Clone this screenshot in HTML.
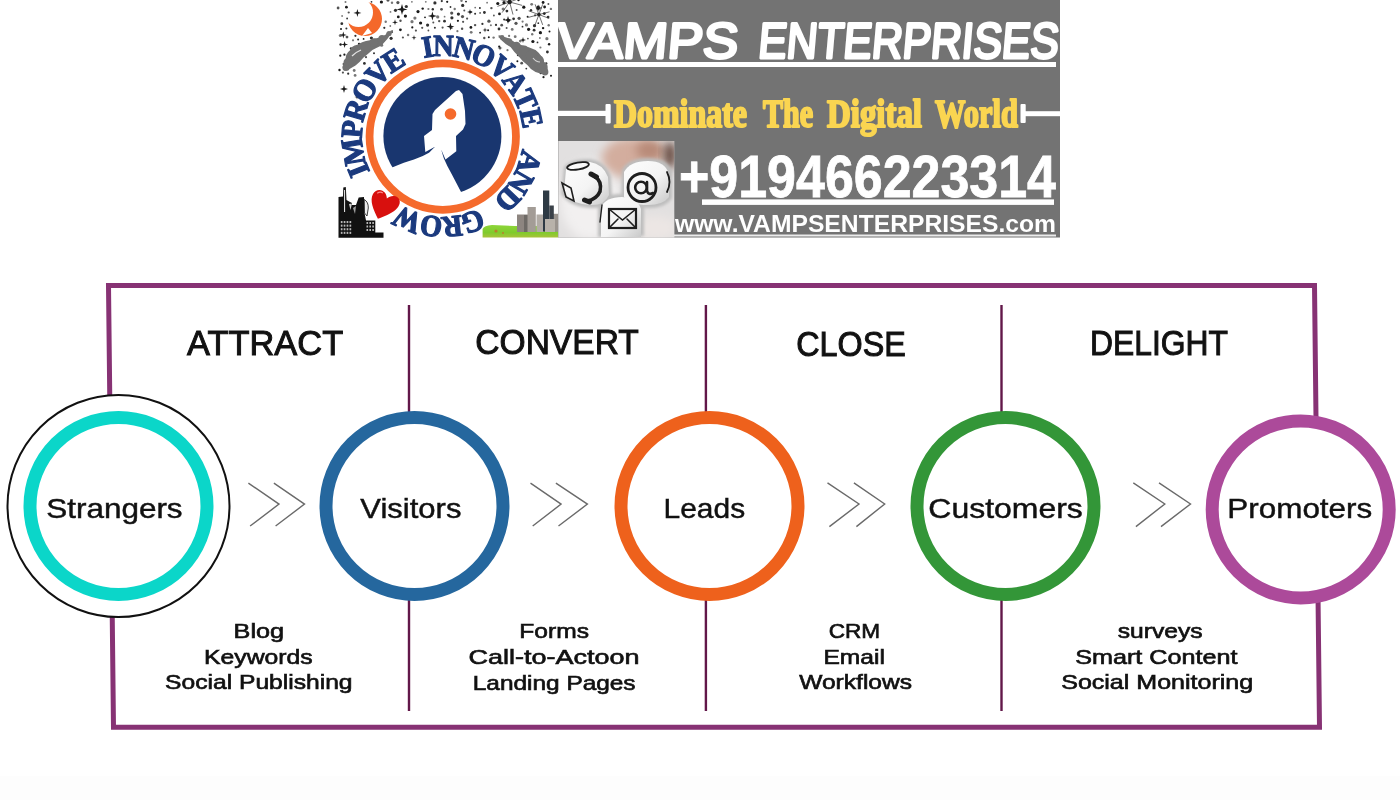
<!DOCTYPE html>
<html><head><meta charset="utf-8">
<style>
html,body{margin:0;padding:0;background:#fff;width:1400px;height:800px;overflow:hidden}
svg{display:block;position:absolute;left:0;top:0;will-change:transform}
</style></head>
<body>
<svg width="1400" height="800" viewBox="0 0 1400 800">
<rect width="1400" height="800" fill="#ffffff"/>
<rect x="0" y="776" width="1400" height="24" fill="#fdfdfd"/>
<!-- LOGO -->
<g id="logo">
<g fill="#1a1a1a">
<circle cx="534.9" cy="54.9" r="1.6" opacity="0.75"/>
<circle cx="463.1" cy="21.8" r="1.1" opacity="0.75"/>
<circle cx="506.9" cy="11.1" r="1.4" opacity="0.9"/>
<circle cx="402.6" cy="10.7" r="1.0" opacity="1"/>
<circle cx="543.5" cy="77.2" r="1.1" opacity="1"/>
<circle cx="371.5" cy="1.8" r="0.9" opacity="0.9"/>
<circle cx="450.5" cy="7.0" r="0.9" opacity="0.9"/>
<circle cx="344.4" cy="54.7" r="1.1" opacity="1"/>
<circle cx="517.4" cy="61.3" r="1.0" opacity="1"/>
<circle cx="488.8" cy="37.2" r="1.0" opacity="1"/>
<circle cx="386.9" cy="34.1" r="0.9" opacity="0.6"/>
<circle cx="518.5" cy="0.1" r="1.2" opacity="1"/>
<circle cx="422.7" cy="8.6" r="1.2" opacity="1"/>
<circle cx="395.5" cy="10.3" r="1.6" opacity="0.9"/>
<circle cx="499.5" cy="13.9" r="1.4" opacity="1"/>
<circle cx="390.5" cy="11.9" r="0.9" opacity="0.6"/>
<circle cx="433.3" cy="22.5" r="1.0" opacity="0.75"/>
<circle cx="493.9" cy="15.5" r="0.9" opacity="0.75"/>
<circle cx="475.1" cy="13.7" r="1.0" opacity="0.9"/>
<circle cx="427.6" cy="25.1" r="1.6" opacity="0.9"/>
<circle cx="509.1" cy="35.9" r="1.1" opacity="0.6"/>
<circle cx="526.5" cy="24.9" r="1.6" opacity="0.6"/>
<circle cx="548.7" cy="25.2" r="1.2" opacity="0.6"/>
<circle cx="408.1" cy="35.0" r="1.2" opacity="0.6"/>
<circle cx="462.1" cy="28.7" r="1.2" opacity="0.75"/>
<circle cx="522.6" cy="21.6" r="1.1" opacity="0.6"/>
<circle cx="512.2" cy="29.4" r="1.4" opacity="0.6"/>
<circle cx="538.3" cy="23.2" r="0.9" opacity="0.9"/>
<circle cx="543.1" cy="28.1" r="1.2" opacity="1"/>
<circle cx="488.1" cy="30.3" r="1.0" opacity="1"/>
<circle cx="400.5" cy="20.7" r="1.2" opacity="0.75"/>
<circle cx="491.4" cy="8.1" r="1.2" opacity="0.75"/>
<circle cx="381.4" cy="2.0" r="1.6" opacity="1"/>
<circle cx="366.0" cy="42.7" r="0.9" opacity="0.6"/>
<circle cx="462.5" cy="16.6" r="1.6" opacity="0.75"/>
<circle cx="345.5" cy="2.1" r="1.0" opacity="0.6"/>
<circle cx="543.1" cy="2.5" r="1.4" opacity="1"/>
<circle cx="493.6" cy="37.6" r="1.2" opacity="0.6"/>
<circle cx="550.9" cy="8.9" r="1.2" opacity="0.6"/>
<circle cx="532.9" cy="41.5" r="1.6" opacity="1"/>
<circle cx="523.5" cy="49.2" r="1.6" opacity="1"/>
<circle cx="355.1" cy="75.4" r="1.4" opacity="0.6"/>
<circle cx="516.6" cy="9.9" r="1.0" opacity="0.75"/>
<circle cx="497.8" cy="3.5" r="1.6" opacity="1"/>
<circle cx="534.1" cy="30.2" r="1.4" opacity="0.9"/>
<circle cx="340.4" cy="35.5" r="1.6" opacity="0.6"/>
<circle cx="482.4" cy="23.9" r="1.1" opacity="0.9"/>
<circle cx="527.9" cy="38.6" r="0.9" opacity="0.75"/>
<circle cx="405.4" cy="16.1" r="1.6" opacity="1"/>
<circle cx="540.4" cy="32.7" r="1.6" opacity="1"/>
<circle cx="374.0" cy="53.2" r="1.0" opacity="0.9"/>
<circle cx="342.1" cy="16.0" r="0.9" opacity="0.6"/>
<circle cx="434.9" cy="2.9" r="1.6" opacity="0.9"/>
<circle cx="439.2" cy="21.1" r="1.2" opacity="0.75"/>
<circle cx="340.3" cy="55.7" r="1.1" opacity="1"/>
<circle cx="499.1" cy="46.4" r="1.0" opacity="1"/>
<circle cx="531.0" cy="10.3" r="1.2" opacity="0.9"/>
<circle cx="490.9" cy="25.2" r="1.0" opacity="0.6"/>
<circle cx="546.2" cy="63.4" r="1.2" opacity="0.9"/>
<circle cx="520.3" cy="41.1" r="1.4" opacity="0.6"/>
<circle cx="355.6" cy="52.0" r="1.2" opacity="1"/>
<circle cx="508.4" cy="20.4" r="1.6" opacity="1"/>
<circle cx="539.4" cy="58.1" r="1.6" opacity="1"/>
<circle cx="352.0" cy="63.6" r="1.6" opacity="1"/>
<circle cx="365.0" cy="51.2" r="1.6" opacity="0.6"/>
<circle cx="529.8" cy="56.2" r="1.6" opacity="0.75"/>
<circle cx="535.1" cy="15.3" r="1.1" opacity="0.75"/>
<circle cx="504.0" cy="2.7" r="1.6" opacity="1"/>
<circle cx="484.3" cy="38.0" r="1.2" opacity="0.75"/>
<circle cx="534.5" cy="25.7" r="1.6" opacity="0.9"/>
<circle cx="515.3" cy="49.8" r="1.0" opacity="0.6"/>
<circle cx="341.8" cy="23.7" r="1.4" opacity="0.9"/>
<circle cx="544.3" cy="13.6" r="1.4" opacity="1"/>
<circle cx="466.0" cy="1.6" r="0.9" opacity="1"/>
<circle cx="447.2" cy="1.8" r="1.1" opacity="1"/>
<circle cx="353.0" cy="40.3" r="1.1" opacity="0.6"/>
<circle cx="470.9" cy="27.4" r="1.4" opacity="1"/>
<circle cx="551.0" cy="75.8" r="1.0" opacity="1"/>
<circle cx="342.9" cy="72.6" r="1.1" opacity="0.75"/>
<circle cx="418.0" cy="11.6" r="1.6" opacity="1"/>
<circle cx="544.0" cy="67.0" r="0.9" opacity="1"/>
<circle cx="354.2" cy="70.5" r="1.4" opacity="0.6"/>
<circle cx="341.0" cy="28.9" r="1.0" opacity="1"/>
<circle cx="347.1" cy="18.5" r="0.9" opacity="0.9"/>
<circle cx="530.9" cy="50.7" r="1.6" opacity="0.9"/>
<circle cx="346.4" cy="7.2" r="1.4" opacity="1"/>
<circle cx="470.8" cy="12.1" r="1.1" opacity="0.9"/>
<circle cx="382.9" cy="40.6" r="1.6" opacity="1"/>
<circle cx="501.7" cy="25.2" r="1.4" opacity="0.75"/>
<circle cx="428.4" cy="30.5" r="0.9" opacity="0.75"/>
<circle cx="510.5" cy="43.5" r="1.4" opacity="0.9"/>
<circle cx="503.2" cy="9.0" r="1.6" opacity="0.6"/>
<circle cx="355.4" cy="35.8" r="1.1" opacity="0.9"/>
<circle cx="398.3" cy="16.9" r="1.4" opacity="1"/>
<circle cx="402.9" cy="37.5" r="1.1" opacity="0.75"/>
<circle cx="528.6" cy="29.3" r="1.6" opacity="1"/>
<circle cx="420.6" cy="23.0" r="1.6" opacity="1"/>
<circle cx="457.9" cy="20.8" r="1.1" opacity="1"/>
<circle cx="397.9" cy="2.6" r="1.6" opacity="0.75"/>
<circle cx="390.3" cy="26.0" r="0.9" opacity="0.6"/>
<circle cx="549.1" cy="44.3" r="1.2" opacity="1"/>
<circle cx="544.6" cy="7.0" r="1.4" opacity="1"/>
<circle cx="531.7" cy="4.3" r="1.4" opacity="0.6"/>
<circle cx="384.3" cy="27.8" r="1.1" opacity="0.9"/>
<circle cx="385.7" cy="21.8" r="1.2" opacity="0.6"/>
<circle cx="499.3" cy="36.8" r="0.9" opacity="0.6"/>
<circle cx="467.1" cy="18.6" r="1.1" opacity="0.75"/>
<circle cx="371.4" cy="38.0" r="1.6" opacity="0.9"/>
<circle cx="549.5" cy="31.4" r="1.0" opacity="1"/>
<circle cx="451.9" cy="17.8" r="1.6" opacity="0.9"/>
<circle cx="358.7" cy="56.7" r="1.0" opacity="0.9"/>
<circle cx="515.2" cy="36.7" r="1.4" opacity="0.6"/>
<circle cx="484.4" cy="12.5" r="1.4" opacity="0.9"/>
<circle cx="340.6" cy="44.5" r="1.2" opacity="1"/>
<circle cx="539.3" cy="66.4" r="1.0" opacity="0.9"/>
<circle cx="488.9" cy="21.2" r="1.6" opacity="0.75"/>
<circle cx="464.3" cy="10.6" r="1.0" opacity="0.75"/>
<circle cx="425.8" cy="1.8" r="0.9" opacity="0.6"/>
<circle cx="444.6" cy="16.7" r="0.9" opacity="0.6"/>
<circle cx="516.0" cy="23.3" r="1.6" opacity="0.75"/>
<circle cx="457.4" cy="31.2" r="1.1" opacity="0.6"/>
<circle cx="454.7" cy="9.0" r="1.2" opacity="0.6"/>
<circle cx="437.7" cy="16.9" r="1.6" opacity="0.6"/>
<circle cx="406.3" cy="6.5" r="1.6" opacity="0.9"/>
<circle cx="422.2" cy="27.8" r="1.1" opacity="0.75"/>
<circle cx="364.4" cy="63.4" r="1.4" opacity="0.9"/>
<circle cx="462.7" cy="5.4" r="1.6" opacity="0.9"/>
<circle cx="348.7" cy="12.5" r="1.1" opacity="0.75"/>
<circle cx="432.8" cy="9.3" r="1.2" opacity="0.9"/>
<circle cx="480.1" cy="32.7" r="0.9" opacity="1"/>
<circle cx="547.4" cy="52.0" r="1.4" opacity="0.9"/>
<circle cx="499.0" cy="29.0" r="1.4" opacity="0.9"/>
<circle cx="548.4" cy="4.0" r="1.0" opacity="0.75"/>
<circle cx="444.5" cy="21.2" r="1.4" opacity="0.9"/>
<circle cx="504.1" cy="19.5" r="1.0" opacity="0.9"/>
<circle cx="531.3" cy="67.1" r="1.2" opacity="1"/>
<circle cx="506.6" cy="28.1" r="1.0" opacity="0.75"/>
<circle cx="347.0" cy="37.1" r="1.4" opacity="0.75"/>
<circle cx="351.0" cy="48.5" r="1.2" opacity="0.9"/>
<circle cx="548.1" cy="17.1" r="1.4" opacity="0.9"/>
<circle cx="346.4" cy="28.4" r="1.0" opacity="0.9"/>
<circle cx="527.6" cy="16.7" r="1.0" opacity="1"/>
<circle cx="428.4" cy="9.0" r="1.1" opacity="0.6"/>
<circle cx="517.6" cy="45.0" r="1.0" opacity="1"/>
<circle cx="412.0" cy="21.7" r="1.6" opacity="0.6"/>
<circle cx="381.6" cy="45.2" r="1.6" opacity="0.6"/>
<circle cx="414.9" cy="18.1" r="1.6" opacity="0.6"/>
<circle cx="537.5" cy="42.4" r="0.9" opacity="0.9"/>
<circle cx="522.5" cy="26.7" r="0.9" opacity="0.9"/>
<circle cx="371.8" cy="47.5" r="1.2" opacity="1"/>
<circle cx="487.1" cy="2.7" r="0.9" opacity="0.6"/>
<circle cx="392.0" cy="2.8" r="1.2" opacity="0.6"/>
<circle cx="388.0" cy="0.1" r="1.6" opacity="0.75"/>
<circle cx="513.6" cy="18.8" r="1.4" opacity="0.9"/>
<circle cx="451.7" cy="28.0" r="0.9" opacity="0.75"/>
<circle cx="391.1" cy="38.3" r="1.6" opacity="0.9"/>
<circle cx="363.6" cy="38.9" r="0.9" opacity="1"/>
<circle cx="343.6" cy="64.0" r="1.1" opacity="0.75"/>
<circle cx="471.2" cy="32.3" r="1.4" opacity="0.6"/>
<circle cx="415.9" cy="30.6" r="1.1" opacity="0.75"/>
<circle cx="540.4" cy="47.5" r="1.1" opacity="0.6"/>
<circle cx="358.1" cy="39.5" r="1.0" opacity="0.9"/>
<circle cx="496.0" cy="24.9" r="1.1" opacity="0.9"/>
<circle cx="539.9" cy="38.0" r="0.9" opacity="0.6"/>
<circle cx="377.1" cy="42.1" r="1.1" opacity="0.9"/>
<circle cx="475.1" cy="25.1" r="1.2" opacity="0.75"/>
<circle cx="442.6" cy="27.6" r="1.1" opacity="0.75"/>
<circle cx="370.3" cy="43.2" r="0.9" opacity="0.75"/>
<circle cx="425.0" cy="17.3" r="0.9" opacity="1"/>
<circle cx="451.7" cy="13.1" r="1.6" opacity="0.75"/>
<circle cx="356.8" cy="60.4" r="1.1" opacity="1"/>
<circle cx="519.1" cy="18.3" r="1.6" opacity="0.75"/>
<circle cx="359.1" cy="43.9" r="1.2" opacity="1"/>
<circle cx="441.8" cy="1.1" r="1.1" opacity="0.9"/>
<circle cx="339.5" cy="70.0" r="1.2" opacity="1"/>
<circle cx="391.7" cy="31.9" r="1.4" opacity="0.75"/>
<circle cx="507.5" cy="50.2" r="1.1" opacity="0.6"/>
<circle cx="348.2" cy="73.7" r="1.1" opacity="0.9"/>
<circle cx="461.5" cy="0.7" r="1.2" opacity="0.6"/>
<circle cx="546.9" cy="38.7" r="1.6" opacity="0.6"/>
<circle cx="400.4" cy="29.8" r="1.4" opacity="1"/>
<circle cx="366.0" cy="57.2" r="1.1" opacity="0.75"/>
<circle cx="412.3" cy="27.4" r="1.1" opacity="1"/>
<circle cx="458.4" cy="14.1" r="1.6" opacity="0.9"/>
<circle cx="523.8" cy="7.2" r="1.6" opacity="1"/>
<circle cx="479.9" cy="8.0" r="0.9" opacity="1"/>
<circle cx="441.5" cy="9.3" r="1.4" opacity="0.75"/>
<circle cx="338.1" cy="8.0" r="1.4" opacity="0.75"/>
<circle cx="411.9" cy="1.8" r="0.9" opacity="0.6"/>
<circle cx="434.9" cy="27.7" r="1.0" opacity="0.9"/>
<circle cx="538.0" cy="8.5" r="1.4" opacity="1"/>
<circle cx="518.2" cy="54.9" r="1.4" opacity="0.9"/>
<circle cx="526.3" cy="68.6" r="0.9" opacity="0.9"/>
<circle cx="534.5" cy="60.7" r="1.4" opacity="0.9"/>
<circle cx="475.2" cy="7.6" r="0.9" opacity="0.6"/>
<circle cx="480.1" cy="12.9" r="0.9" opacity="0.75"/>
<circle cx="532.2" cy="34.3" r="1.2" opacity="0.6"/>
<circle cx="540.8" cy="73.1" r="1.2" opacity="1"/>
<circle cx="502.9" cy="39.3" r="1.4" opacity="0.6"/>
<circle cx="521.7" cy="63.2" r="1.4" opacity="0.75"/>
<path d="M402 3.9000000000000004 L403.21 8.190000000000001 L407.5 9.4 L403.21 10.61 L402 14.9 L400.79 10.61 L396.5 9.4 L400.79 8.190000000000001 Z"/>
<path d="M432.4 11.4 L433.39 14.91 L436.9 15.9 L433.39 16.89 L432.4 20.4 L431.40999999999997 16.89 L427.9 15.9 L431.40999999999997 14.91 Z"/>
<path d="M357.4 8.9 L358.28 12.02 L361.4 12.9 L358.28 13.780000000000001 L357.4 16.9 L356.52 13.780000000000001 L353.4 12.9 L356.52 12.02 Z"/>
<path d="M450.4 22.6 L451.28 25.720000000000002 L454.4 26.6 L451.28 27.48 L450.4 30.6 L449.52 27.48 L446.4 26.6 L449.52 25.720000000000002 Z"/>
<path d="M343.3 31.5 L344.07 34.23 L346.8 35 L344.07 35.77 L343.3 38.5 L342.53000000000003 35.77 L339.8 35 L342.53000000000003 34.23 Z"/>
<path d="M344.6 41.1 L345.37 43.83 L348.1 44.6 L345.37 45.370000000000005 L344.6 48.1 L343.83000000000004 45.370000000000005 L341.1 44.6 L343.83000000000004 43.83 Z"/>
<path d="M395 19.3 L395.66 21.64 L398 22.3 L395.66 22.96 L395 25.3 L394.34 22.96 L392 22.3 L394.34 21.64 Z"/>
<path d="M414 35.1 L414.572 37.128 L416.6 37.7 L414.572 38.272000000000006 L414 40.300000000000004 L413.428 38.272000000000006 L411.4 37.7 L413.428 37.128 Z"/>
<path d="M508 16 L508.88 19.12 L512 20 L508.88 20.88 L508 24 L507.12 20.88 L504 20 L507.12 19.12 Z"/>
<path d="M538.9 4.5 L539.67 7.23 L542.4 8 L539.67 8.77 L538.9 11.5 L538.13 8.77 L535.4 8 L538.13 7.23 Z"/>
<path d="M344 85 L344.88 88.12 L348 89 L344.88 89.88 L344 93 L343.12 89.88 L340 89 L343.12 88.12 Z"/>
<path d="M357 94.5 L357.55 96.45 L359.5 97 L357.55 97.55 L357 99.5 L356.45 97.55 L354.5 97 L356.45 96.45 Z"/>
<path d="M500 45.5 L500.55 47.45 L502.5 48 L500.55 48.55 L500 50.5 L499.45 48.55 L497.5 48 L499.45 47.45 Z"/>
<path d="M470 9 L470.66 11.34 L473 12 L470.66 12.66 L470 15 L469.34 12.66 L467 12 L469.34 11.34 Z"/>
<path d="M485 27.5 L485.55 29.45 L487.5 30 L485.55 30.55 L485 32.5 L484.45 30.55 L482.5 30 L484.45 29.45 Z"/>
<path d="M523 37 L523.66 39.34 L526 40 L523.66 40.66 L523 43 L522.34 40.66 L520 40 L522.34 39.34 Z"/>
</g>
<g stroke="#333" stroke-width="0.7" fill="none">
<line x1="497.0" y1="-1.4" x2="522.2" y2="5.4"/>
<line x1="506.2" y1="-10.6" x2="513.0" y2="14.6"/>
<line x1="517.1" y1="-8.6" x2="502.1" y2="12.6"/>
<line x1="521.8" y1="-2.4" x2="497.4" y2="6.4"/>
<line x1="528.6" y1="10.8" x2="549.2" y2="18.4"/>
<line x1="535.1" y1="4.3" x2="542.7" y2="24.9"/>
<line x1="542.7" y1="4.3" x2="535.1" y2="24.9"/>
<line x1="549.5" y1="11.8" x2="528.3" y2="17.4"/>
</g>
<circle cx="509.6" cy="2" r="2.2" fill="#222"/><circle cx="538.9" cy="14.6" r="1.8" fill="#222"/><circle cx="538" cy="7" r="1.5" fill="#222"/>
<defs><mask id="moonm"><rect x="330" y="-10" width="80" height="70" fill="#fff"/><circle cx="358.5" cy="12.5" r="14.5" fill="#000"/></mask></defs>
<circle cx="365" cy="19" r="17" fill="#f4682a" mask="url(#moonm)"/>
<path d="M362 36 L368 28 L372 33 Z" fill="#fff"/>
<g fill="#727272">
<path d="M393.2 29.8 Q387 34 381.5 37 Q375 38.5 369.8 40.2 Q362 41.5 357.4 44.8 Q351 46 350.3 50 Q345 54 345.7 60.4 Q342 65 343.8 69.5 L344.4 70.8 Q350 69.5 355.5 65.6 Q360 62 363.3 57.8 Q368 54 372.4 50 Q377 47.5 381.5 45.4 Q388 39 392.5 31.8 Z"/>
<path d="M498.4 34.9 Q503 36 508.5 38.25 Q513 41 517.5 43.9 Q523 45 528.75 47.25 Q535 49 538.9 52.9 Q543 57 544.5 63 Q548 67 547.9 72 L545.6 74.8 Q540 73.5 535.5 72 Q530 69 527.6 65.25 Q522 61 518.6 56.25 Q514 52 510.75 47.25 Q505 44 501.75 40.5 Q499 37.5 498.4 34.9 Z"/>
<circle cx="389" cy="33.5" r="2.6"/>
<circle cx="382" cy="38.5" r="3.6"/>
<circle cx="374" cy="42.5" r="4.2"/>
<circle cx="366" cy="46.5" r="4.8"/>
<circle cx="359" cy="51" r="5.2"/>
<circle cx="353" cy="56.5" r="5.4"/>
<circle cx="348.5" cy="62.5" r="5"/>
<circle cx="346" cy="67.5" r="3.6"/>
<circle cx="502" cy="37.5" r="2.4"/>
<circle cx="509" cy="41.5" r="3.2"/>
<circle cx="516.5" cy="46" r="4.2"/>
<circle cx="524" cy="50.5" r="5"/>
<circle cx="531.5" cy="55.5" r="5.8"/>
<circle cx="538" cy="61" r="6"/>
<circle cx="542.5" cy="67" r="5.2"/>
<circle cx="545" cy="72" r="3.4"/>
</g>
<path d="M352 56 Q356 52 361 50" stroke="#fff" stroke-width="1.3" fill="none" opacity="0.8"/>
<path d="M533 58 Q536 62 540 62" stroke="#fff" stroke-width="1.2" fill="none" opacity="0.7"/>
<circle cx="442.75" cy="136.6" r="73.2" fill="none" stroke="#f56a2c" stroke-width="7.8"/>
<defs><mask id="discm"><rect x="370" y="60" width="150" height="160" fill="#000"/><circle cx="442.4" cy="136" r="59" fill="#fff"/><path d="M459 90 L462.5 94 L465 111 L465.5 124 L463 129.5 L456 136 L456.3 151.3 L445.5 159.5 L441.2 149.5 Q443 156 444 158.8 Q447 166 451.5 173.8 L461.3 192.5 L470 215 L380 215 L385 170 L391.5 167.8 Q405 162 414 159.5 Q423 156.5 429 152.8 L435 146.8 L425.3 152 L424 136 L432 130 L432.5 114 L435 110 L456 91 Z" fill="#000"/></mask></defs>
<rect x="380" y="74" width="125" height="125" fill="#19366f" mask="url(#discm)"/>
<circle cx="450.5" cy="114" r="5.8" fill="#f56a2c"/>
<g fill="#1b3a7e" stroke="#1b3a7e" stroke-width="1.2" stroke-linejoin="round" font-family="Liberation Serif" font-weight="bold" font-size="30.5">
<text transform="translate(367.86 166.46) rotate(248.00) scale(0.953 1)" text-anchor="middle">I</text>
<text transform="translate(363.16 149.92) rotate(260.26) scale(0.953 1)" text-anchor="middle">M</text>
<text transform="translate(362.26 129.90) rotate(274.56) scale(0.953 1)" text-anchor="middle">P</text>
<text transform="translate(365.45 113.00) rotate(286.83) scale(0.953 1)" text-anchor="middle">R</text>
<text transform="translate(373.23 95.29) rotate(300.62) scale(0.953 1)" text-anchor="middle">O</text>
<text transform="translate(385.01 79.96) rotate(314.42) scale(0.953 1)" text-anchor="middle">V</text>
<text transform="translate(398.89 68.63) rotate(327.20) scale(0.953 1)" text-anchor="middle">E</text>
<text transform="translate(429.21 56.90) rotate(350.50) scale(0.935 1)" text-anchor="middle">I</text>
<text transform="translate(443.25 55.80) rotate(360.54) scale(0.935 1)" text-anchor="middle">N</text>
<text transform="translate(461.40 58.05) rotate(373.58) scale(0.935 1)" text-anchor="middle">N</text>
<text transform="translate(479.20 64.65) rotate(387.12) scale(0.935 1)" text-anchor="middle">O</text>
<text transform="translate(494.96 75.24) rotate(400.67) scale(0.935 1)" text-anchor="middle">V</text>
<text transform="translate(507.39 88.65) rotate(413.71) scale(0.935 1)" text-anchor="middle">A</text>
<text transform="translate(516.18 103.88) rotate(426.25) scale(0.935 1)" text-anchor="middle">T</text>
<text transform="translate(521.33 119.98) rotate(438.30) scale(0.935 1)" text-anchor="middle">E</text>
<text transform="translate(519.68 159.16) rotate(466.50) scale(0.986 1)" text-anchor="middle">A</text>
<text transform="translate(512.04 176.85) rotate(480.25) scale(0.986 1)" text-anchor="middle">N</text>
<text transform="translate(500.41 192.22) rotate(494.00) scale(0.986 1)" text-anchor="middle">D</text>
<text transform="translate(469.50 212.14) rotate(520.40) scale(0.923 1)" text-anchor="middle">G</text>
<text transform="translate(451.23 216.33) rotate(533.77) scale(0.923 1)" text-anchor="middle">R</text>
<text transform="translate(432.48 216.17) rotate(547.15) scale(0.923 1)" text-anchor="middle">O</text>
<text transform="translate(411.05 210.40) rotate(563.00) scale(0.923 1)" text-anchor="middle">W</text>
</g>
<g transform="translate(-2 1) rotate(24 386 204)"><path d="M386 219 C378 212.5 371 206 371.5 198.5 C372 192.5 377.5 190 382 192.5 C384 193.8 385.3 195.5 386 197 C387.5 193.5 391 190.5 395.5 191.5 C400 192.8 401 198.5 398.5 203.5 C396 209 390.5 214.5 386 219 Z" fill="#d8100e"/><path d="M375 196 Q377 193 380 193.5" stroke="#ff9a9a" stroke-width="1.2" fill="none" opacity="0.9"/></g>
<g fill="#111">
<path d="M338.5 237.8 L338.5 197 L343 196.5 L343.3 187.5 L345.8 187 L346.5 200 L350 202 L352 203 L352 205 L356 205 L358.7 197.5 L364 197 L364.5 213 L366 220.5 L375.3 220.5 L375.3 232.5 L383.5 232.5 L383.5 237.8 Z"/>
</g>
<g fill="#fff">
<rect x="344" y="190" width="1.1" height="22" opacity="0.85"/>
<path d="M349 204 L352 203.5 L350.5 210 Z" opacity="0.8"/>
<path d="M364.3 199.5 Q368.5 202 368.3 208 L367 216 L364.5 213 Z" fill="#ececec" stroke="#111" stroke-width="0.8"/>
<path d="M353 208 L356 206 L355 214 Z" opacity="0.6"/>
</g>
<g fill="#fff" opacity="0.7">
<rect x="340.8" y="221.0" width="1.7" height="2.1"/>
<rect x="343.7" y="221.0" width="1.7" height="2.1"/>
<rect x="346.6" y="221.0" width="1.7" height="2.1"/>
<rect x="349.5" y="221.0" width="1.7" height="2.1"/>
<rect x="340.8" y="224.6" width="1.7" height="2.1"/>
<rect x="343.7" y="224.6" width="1.7" height="2.1"/>
<rect x="346.6" y="224.6" width="1.7" height="2.1"/>
<rect x="349.5" y="224.6" width="1.7" height="2.1"/>
<rect x="340.8" y="228.2" width="1.7" height="2.1"/>
<rect x="343.7" y="228.2" width="1.7" height="2.1"/>
<rect x="346.6" y="228.2" width="1.7" height="2.1"/>
<rect x="349.5" y="228.2" width="1.7" height="2.1"/>
<rect x="340.8" y="231.8" width="1.7" height="2.1"/>
<rect x="343.7" y="231.8" width="1.7" height="2.1"/>
<rect x="346.6" y="231.8" width="1.7" height="2.1"/>
<rect x="349.5" y="231.8" width="1.7" height="2.1"/>
<rect x="366.5" y="222.0" width="1.6" height="2"/>
<rect x="369.4" y="222.0" width="1.6" height="2"/>
<rect x="372.3" y="222.0" width="1.6" height="2"/>
<rect x="366.5" y="225.5" width="1.6" height="2"/>
<rect x="369.4" y="225.5" width="1.6" height="2"/>
<rect x="372.3" y="225.5" width="1.6" height="2"/>
<rect x="366.5" y="229.0" width="1.6" height="2"/>
<rect x="369.4" y="229.0" width="1.6" height="2"/>
<rect x="372.3" y="229.0" width="1.6" height="2"/>
</g>
<defs><linearGradient id="gr" x1="0" y1="0" x2="0" y2="1"><stop offset="0" stop-color="#8ed63a"/><stop offset="0.6" stop-color="#7fcb2c"/><stop offset="1" stop-color="#a9c23a"/></linearGradient></defs>
<path d="M482.6 237.5 L482.6 229 Q484 225.5 492 225 L515 226 L558 226 L558 237.5 Z" fill="url(#gr)"/>
<g fill="#e04a2a" opacity="0.6"><circle cx="496" cy="231" r="1.6"/><circle cx="503" cy="233" r="1"/></g>
<g>
<rect x="517" y="214.5" width="13" height="17.5" fill="#8d8580"/>
<rect x="524" y="215" width="6" height="17" fill="#6e6a66"/>
<rect x="527.5" y="207" width="8.3" height="25" fill="#a39c96"/>
<rect x="536.5" y="214.5" width="7.5" height="17.5" fill="#b2aca6"/>
<rect x="553" y="213.8" width="5" height="18" fill="#9a948e"/>
<rect x="543" y="190.5" width="6.3" height="41" fill="#2e3a44"/>
<rect x="549.3" y="205.5" width="4.5" height="26" fill="#3a4148"/>
<rect x="545" y="219" width="10" height="13" fill="#b8b2aa"/>
</g>
<rect x="558" y="0" width="502" height="237.5" fill="#737373"/>
<g fill="#fff" stroke="#fff" stroke-width="3" stroke-linejoin="round" stroke-linecap="round" font-family="Liberation Sans" font-size="50">
<text id="vamps" transform="translate(0 60) skewX(-5) translate(0 -60)" x="555.4" y="58.3" textLength="181.6" lengthAdjust="spacingAndGlyphs">VAMPS</text>
<text id="enter" transform="translate(0 60) skewX(-5) translate(0 -60)" x="757" y="58.3" textLength="300.5" lengthAdjust="spacingAndGlyphs">ENTERPRISES</text>
</g>
<rect x="558" y="62" width="498" height="5" fill="#fff"/>
<g fill="#fff"><rect x="558" y="110.8" width="49" height="5.2"/><rect x="605.5" y="104" width="5.2" height="19.5" rx="1"/><rect x="1021" y="111.2" width="39" height="5"/><rect x="1020.5" y="104" width="5.2" height="19" rx="1"/></g>
<g fill="#fad551" stroke="#fad551" stroke-width="2.2" stroke-linejoin="round" font-family="Liberation Serif" font-weight="bold" font-size="40">
<text id="dom" x="614" y="127" textLength="133" lengthAdjust="spacingAndGlyphs">Dominate</text>
<text id="the" x="763" y="127" textLength="50" lengthAdjust="spacingAndGlyphs">The</text>
<text id="dig" x="827" y="127" textLength="95" lengthAdjust="spacingAndGlyphs">Digital</text>
<text id="wor" x="935" y="127" textLength="83" lengthAdjust="spacingAndGlyphs">World</text>
</g>
<defs><clipPath id="ph"><rect x="558.3" y="141" width="116" height="96.5"/></clipPath><filter id="bl" x="-50%" y="-50%" width="200%" height="200%"><feGaussianBlur stdDeviation="5"/></filter><filter id="bl2" x="-50%" y="-50%" width="200%" height="200%"><feGaussianBlur stdDeviation="1.5"/></filter><linearGradient id="dg" x1="0" y1="0" x2="1" y2="1"><stop offset="0" stop-color="#fdfdfd"/><stop offset="0.55" stop-color="#f4f4f4"/><stop offset="1" stop-color="#c9c9c9"/></linearGradient></defs>
<g clip-path="url(#ph)">
<rect x="558" y="141" width="117" height="97" fill="#e2e0e0"/>
<ellipse cx="590" cy="200" rx="30" ry="40" fill="#f2f0f0" filter="url(#bl)"/>
<ellipse cx="632" cy="158" rx="30" ry="20" fill="#d3ad9e" filter="url(#bl)"/>
<ellipse cx="650" cy="150" rx="14" ry="10" fill="#b88a78" filter="url(#bl)"/>
<ellipse cx="670" cy="155" rx="6" ry="14" fill="#5e4035" filter="url(#bl)"/>
<ellipse cx="655" cy="228" rx="22" ry="12" fill="#ece6e4" filter="url(#bl)"/>
<g filter="url(#bl2)" fill="#bdbdbd">
<path d="M564 167 Q572 158 590 159 Q605 161 611 176 L612 196 Q606 209 590 208 Q570 207 561 194 Z"/>
<path d="M622 170 Q628 158 648 158 Q668 158 672 172 L672 198 Q666 208 648 208 Q628 208 621 198 Z"/>
<path d="M598 205 Q604 193 622 194 Q640 195 644 208 L644 236 L598 237 Z"/>
</g>
<g fill="url(#dg)">
<path d="M566 169 Q573 161 590 162 Q603 164 608 177 L609 195 Q604 206 590 205 Q572 204 564 193 Z"/>
<path d="M624 172 Q630 161 648 161 Q665 161 669 174 L669 197 Q663 205 648 205 Q630 205 624 197 Z"/>
<path d="M601 207 Q606 197 622 197 Q638 198 641 209 L641 237 L601 237 Z"/>
</g>
<g fill="none" stroke="#1e1e1e" stroke-width="2.2" stroke-linecap="round">
<path d="M594 176 Q602.5 181 600 191.5 Q596.5 199.5 587 201" stroke-width="3.6"/>
<path d="M591 174 L596.5 177" stroke-width="5"/><path d="M584.5 200 L589.5 202" stroke-width="5"/>
<ellipse cx="578" cy="166" rx="11" ry="3.5" transform="rotate(-10 578 166)" stroke-width="1.8"/>
<path d="M562 183 L571 188 L574 201 L566 197 Z" stroke-width="1.6"/>
<circle cx="642" cy="187.5" r="14" stroke-width="2.8"/><circle cx="641" cy="187.5" r="5.8" stroke-width="2.6"/><path d="M647 182 L647 191 Q648.5 195.5 653 193" stroke-width="2.6"/>
<path d="M667 172 Q672 182 667 192" stroke-width="1.8"/>
<rect x="609" y="209" width="27" height="19" stroke-width="2.2"/><path d="M609 209 L622.5 220 L636 209 M609 228 L618 219 M636 228 L627 219" stroke-width="1.6"/>
<path d="M602 205 L600 222" stroke-width="1.4"/>
</g>
</g>
<g fill="#fff" stroke="#fff" stroke-width="0.8" font-family="Liberation Sans" font-weight="bold" font-size="60">
<text id="phone" x="679" y="197" textLength="377" lengthAdjust="spacingAndGlyphs">+919466223314</text>
</g>
<rect x="702" y="199.4" width="352" height="5.5" fill="#fff"/>
<g fill="#fff" font-family="Liberation Sans" font-weight="bold" font-size="23.8">
<text id="url" x="675" y="232.2" textLength="381" lengthAdjust="spacingAndGlyphs">www.VAMPSENTERPRISES.com</text>
</g>
<rect x="674" y="234.5" width="382" height="2" fill="#ececec"/>
</g><!--/logo-->
<!-- FRAME -->
<path d="M108.5 285.5 L1314.5 285.5 L1319.5 727.2 L113.5 727.2 Z" fill="none" stroke="#873274" stroke-width="5" stroke-linejoin="miter"/>
<g stroke="#621749" stroke-width="2.4">
<line x1="409" y1="305" x2="409" y2="711"/>
<line x1="705.9" y1="305" x2="705.9" y2="711"/>
<line x1="1001.5" y1="305" x2="1001.5" y2="711"/>
</g>
<!-- CIRCLES -->
<circle cx="118.5" cy="506" r="111" fill="#fff" stroke="#111" stroke-width="2"/>
<circle cx="118.5" cy="506" r="88.5" fill="#fff" stroke="#0bd6c9" stroke-width="13"/>
<circle cx="414.5" cy="506" r="88.5" fill="#fff" stroke="#25679e" stroke-width="13"/>
<circle cx="709.5" cy="506" r="88.5" fill="#fff" stroke="#ee611c" stroke-width="13"/>
<circle cx="1005.5" cy="506" r="88.5" fill="#fff" stroke="#339638" stroke-width="13"/>
<circle cx="1300.7" cy="509.4" r="88.5" fill="#fff" stroke="#ac4a9a" stroke-width="13"/>
<!-- CHEVRONS -->
<g fill="none" stroke="#6a6a6a" stroke-width="1.4">
<path d="M248.4 483.1 L279 504.1 L250.1 526 M273.9 483.1 L304.5 504.1 L275.6 526"/>
<path d="M530.5 483.1 L561.1 504.1 L532.7 526 M555.9 483.1 L587.4 504.1 L558.5 526"/>
<path d="M827.5 482.9 L859 504 L829.4 526.6 M853.9 482.9 L884.7 504 L856.4 526.6"/>
<path d="M1133.3 482.9 L1164.8 504 L1135.9 526.6 M1159 482.9 L1190.5 504 L1161 526.6"/>
</g>
<!-- HEADERS -->
<g font-family="Liberation Sans" fill="#111" font-size="35.5" stroke="#111" stroke-width="1.0">
<text id="h1" x="187.1" y="354.5" textLength="156.07" lengthAdjust="spacingAndGlyphs">ATTRACT</text>
<text id="h2" x="475.29" y="354.3" textLength="163.52" lengthAdjust="spacingAndGlyphs">CONVERT</text>
<text id="h3" x="796.2" y="356" textLength="109.6" lengthAdjust="spacingAndGlyphs">CLOSE</text>
<text id="h4" x="1090.11" y="354.7" textLength="137.88" lengthAdjust="spacingAndGlyphs">DELIGHT</text>
</g>
<!-- LABELS -->
<g font-family="Liberation Sans" fill="#111" font-size="27.6" stroke="#111" stroke-width="0.45">
<text id="l1" x="46.2" y="517.6" textLength="136.43" lengthAdjust="spacingAndGlyphs">Strangers</text>
<text id="l2" x="360.27" y="517.6" textLength="101.17" lengthAdjust="spacingAndGlyphs">Visitors</text>
<text id="l3" x="663.56" y="517.6" textLength="81.61" lengthAdjust="spacingAndGlyphs">Leads</text>
<text id="l4" x="928.34" y="517.8" textLength="154.52" lengthAdjust="spacingAndGlyphs">Customers</text>
<text id="l5" x="1227.3" y="518.1" textLength="144.96" lengthAdjust="spacingAndGlyphs">Promoters</text>
</g>
<!-- BOTTOM TEXT -->
<g font-family="Liberation Sans" fill="#111" font-size="20.8" stroke="#111" stroke-width="0.65">
<text id="b1" x="233.63" y="637.9" textLength="50.51" lengthAdjust="spacingAndGlyphs">Blog</text>
<text id="b2" x="204.06" y="663.6" textLength="108.6" lengthAdjust="spacingAndGlyphs">Keywords</text>
<text id="b3" x="165.11" y="689.3" textLength="187.42" lengthAdjust="spacingAndGlyphs">Social Publishing</text>
<text id="b4" x="519.29" y="637.8" textLength="69.65" lengthAdjust="spacingAndGlyphs">Forms</text>
<text id="b5" x="468.58" y="663.9" textLength="170.84" lengthAdjust="spacingAndGlyphs">Call-to-Actoon</text>
<text id="b6" x="472.77" y="689.6" textLength="162.79" lengthAdjust="spacingAndGlyphs">Landing Pages</text>
<text id="b7" x="828.72" y="637.8" textLength="51.46" lengthAdjust="spacingAndGlyphs">CRM</text>
<text id="b8" x="823.44" y="663.9" textLength="61.51" lengthAdjust="spacingAndGlyphs">Email</text>
<text id="b9" x="799.24" y="689.3" textLength="112.8" lengthAdjust="spacingAndGlyphs">Workflows</text>
<text id="b10" x="1117.67" y="637.7" textLength="84.89" lengthAdjust="spacingAndGlyphs">surveys</text>
<text id="b11" x="1075.2" y="664" textLength="162.37" lengthAdjust="spacingAndGlyphs">Smart Content</text>
<text id="b12" x="1061.2" y="689" textLength="191.98" lengthAdjust="spacingAndGlyphs">Social Monitoring</text>
</g>
</svg>
</body></html>
